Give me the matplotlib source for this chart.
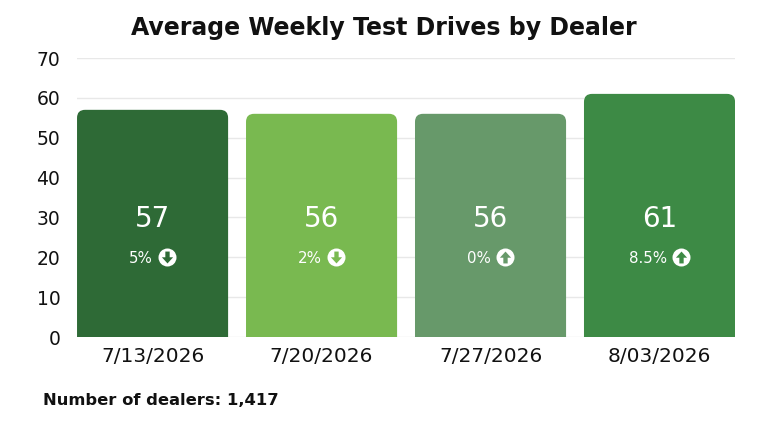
import matplotlib
matplotlib.use('Agg')
import matplotlib.pyplot as plt
from matplotlib.patches import FancyBboxPatch
from matplotlib.path import Path
import numpy as np

# ---- data ----
dates = ['7/13/2026', '7/20/2026', '7/27/2026', '8/03/2026']
values = [57, 56, 56, 61]
changes = ['5%', '2%', '0%', '8.5%']
directions = ['down', 'down', 'up', 'up']
colors = ['#2e6a36', '#79b950', '#67996a', '#3d8a45']
yticks = [0, 10, 20, 30, 40, 50, 60, 70]
title = 'Average Weekly Test Drives by Dealer'
footer = 'Number of dealers: 1,417'

plt.rcParams['font.family'] = ['DejaVu Sans']

fig = plt.figure(figsize=(7.68, 4.32), dpi=100)
ax = fig.add_axes([0.1003, 0.2199, 0.8568, 0.6458])

x = np.arange(len(dates))
width = 0.894
bars = ax.bar(x, values, width=width, color=colors)
ax.set_xlim(-width / 2, len(dates) - 1 + width / 2)
ax.set_ylim(0, 70)
ax.set_yticks(yticks)
ax.set_xticks(x)
ax.set_xticklabels(dates, fontsize=14.5, color='#111111')
ax.set_yticklabels([str(t) for t in yticks], fontsize=13.5, color='#111111')
ax.tick_params(axis='both', length=0)
ax.tick_params(axis='y', pad=12)
ax.tick_params(axis='x', pad=7)
for s in ax.spines.values():
    s.set_visible(False)
ax.yaxis.grid(True, color='#e8e8e8', lw=1)
ax.set_axisbelow(True)

fig.canvas.draw()
bb = ax.get_window_extent()
px_per_x = bb.width / (ax.get_xlim()[1] - ax.get_xlim()[0])
px_per_y = bb.height / 70.0
aspect = px_per_x / px_per_y
r = 8 / px_per_x

for b in bars:
    b.set_visible(False)
    p = FancyBboxPatch((b.get_x(), -5), b.get_width(), b.get_height() + 5,
                       boxstyle=f'round,pad=0,rounding_size={r}',
                       mutation_aspect=aspect, fc=b.get_facecolor(),
                       ec='none', zorder=2, clip_on=True)
    ax.add_patch(p)

# arrow markers
down = Path([(-0.2, 0.55), (0.2, 0.55), (0.2, 0.02), (0.52, 0.02),
             (0.0, -0.55), (-0.52, 0.02), (-0.2, 0.02), (-0.2, 0.55)],
            [Path.MOVETO] + [Path.LINETO] * 6 + [Path.CLOSEPOLY])
up = Path([(vx, -vy) for vx, vy in down.vertices], down.codes)

renderer = fig.canvas.get_renderer()
circ_d = 18.0
gap = 5.0
for i, (v, ch, d, c) in enumerate(zip(values, changes, directions, colors)):
    ax.text(i, 29.5, str(v), ha='center', va='center', color='white',
            fontsize=20, zorder=4)
    t = ax.text(i, 19.8, ch, ha='center', va='center', color='white',
                fontsize=10.8, zorder=4)
    w = t.get_window_extent(renderer).width
    total = w + gap + circ_d
    tx = i + (-total / 2 + w / 2) / px_per_x
    t.set_x(tx)
    cx = i + (total / 2 - circ_d / 2) / px_per_x
    ax.plot([cx], [20.0], marker='o', ms=circ_d * 0.72, mfc='white',
            mec='none', zorder=4)
    ax.plot([cx], [20.0], marker=down if d == 'down' else up,
            ms=circ_d * 0.72 * 0.66, mfc=c, mec='none', zorder=5)

fig.text(0.5, 0.935, title, ha='center', va='center', fontsize=17,
         fontweight='bold', color='#111111')
fig.text(0.056, 0.073, footer, ha='left', va='center', fontsize=11.8,
         fontweight='bold', color='#111111')

fig.savefig('out.png', dpi=100)
